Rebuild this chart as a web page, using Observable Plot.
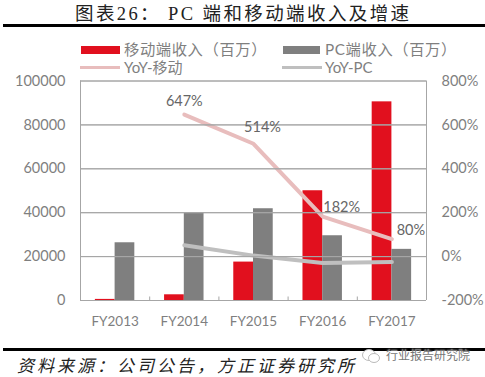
<!DOCTYPE html>
<html><head><meta charset="utf-8">
<script src="https://cdn.jsdelivr.net/npm/d3@7"></script>
<script src="https://cdn.jsdelivr.net/npm/@observablehq/plot@0.6"></script>
<style>
html,body{margin:0;padding:0;background:#fff}
#wrap{position:relative;width:485px;height:377px;overflow:hidden;font-family:"Noto Sans CJK SC",sans-serif}
#chart{position:absolute;left:0;top:0}
.a{position:absolute;white-space:nowrap}
.leg{color:#7f7f7f;font-family:Lato,"Noto Sans CJK SC",sans-serif}
</style></head><body>
<div id="wrap">
<div id="chart"></div>
<div class="a" style="left:75px;top:1px;font:400 18.5px/26px 'Liberation Serif','Noto Sans CJK SC',serif;letter-spacing:2.4px;color:#222">图表26：&nbsp;PC 端和移动端收入及增速</div>
<div class="a" style="left:3px;top:24px;width:482px;height:3px;background:#000"></div>
<div class="a" style="left:81px;top:46px;width:39px;height:8px;background:#e1101e"></div>
<div class="a leg" style="left:124px;top:38px;font-size:15.3px;line-height:22px;letter-spacing:.6px">移动端收入（百万）</div>
<div class="a" style="left:283px;top:46px;width:37px;height:8px;background:#7f7f7f"></div>
<div class="a leg" style="left:325px;top:38px;font-size:15.3px;line-height:22px;letter-spacing:.6px">PC端收入（百万）</div>
<div class="a" style="left:80px;top:66px;width:40px;height:3px;background:#e8bdbd"></div>
<div class="a leg" style="left:124px;top:57px;font-size:15px;line-height:20px">YoY-移动</div>
<div class="a" style="left:282px;top:66px;width:40px;height:3px;background:#bfbfbf"></div>
<div class="a leg" style="left:325px;top:57px;font-size:15px;line-height:20px">YoY-PC</div>
<div class="a" style="left:3px;top:348px;width:482px;height:3px;background:#000"></div>
<div class="a" style="left:17px;top:353px;font-size:17px;line-height:24px;font-style:italic;letter-spacing:3px;color:#222">资料来源：公司公告，方正证券研究所</div>
<svg class="a" style="left:361px;top:347px" width="20" height="18" viewBox="0 0 20 18"><ellipse cx="8" cy="8" rx="6.5" ry="5.5" fill="#fff" stroke="#bbb"/><ellipse cx="13" cy="11" rx="5.5" ry="4.5" fill="#fff" stroke="#bbb"/></svg>
<div class="a" style="left:386px;top:345px;font-size:12px;line-height:20px;color:#777;text-shadow:0 0 2px #fff">行业报告研究院</div>
</div>
<script>
const years = ["FY2013","FY2014","FY2015","FY2016","FY2017"];
const mobileRevenue = [500,2600,17500,50000,90500];
const pcRevenue = [26300,40000,41800,29500,23300];
const yoyYears = ["FY2014","FY2015","FY2016","FY2017"];
const yoyMobile = [647,514,182,80];
const yoyPC = [52,4.5,-29,-25];
const leftTicks = [0,20000,40000,60000,80000,100000];
const rightTicks = [-200,0,200,400,600,800];

const center = y => years.indexOf(y) + 0.5;
const toLeft = p => (p + 200) * 100;
const grey = "#7f7f7f", axisGrey = "#a6a6a6";
const barW = 0.285;
const label = (i, dx, dy) => Plot.text([i], {
  x: j => center(yoyYears[j]), y: j => toLeft(yoyMobile[j]),
  text: j => yoyMobile[j] + "%", dx, dy, fill: "#666", fontSize: 14.5, fontFamily: "Lato"
});

const plot = Plot.plot({
  width: 485, height: 377,
  marginTop: 80.5, marginBottom: 77, marginLeft: 80, marginRight: 59,
  style: {background: "transparent", fontFamily: "Lato", color: grey},
  x: {domain: [0, 5], axis: null},
  y: {domain: [0, 100000], axis: null},
  marks: [
    Plot.rectY(years, {x1: y => center(y) - barW, x2: y => center(y), y1: 0, y2: (y, i) => mobileRevenue[i], fill: "#e1101e"}),
    Plot.rectY(years, {x1: y => center(y), x2: y => center(y) + barW, y1: 0, y2: (y, i) => pcRevenue[i], fill: grey}),
    Plot.lineY(yoyYears, {x: center, y: (y, i) => toLeft(yoyMobile[i]), stroke: "#e8bdbd", strokeWidth: 4, strokeLinejoin: "round"}),
    Plot.lineY(yoyYears, {x: center, y: (y, i) => toLeft(yoyPC[i]), stroke: "#bfbfbf", strokeWidth: 4, strokeLinejoin: "round"}),
    Plot.ruleX([0, 5], {stroke: axisGrey}),
    Plot.ruleY([0], {stroke: axisGrey}),
    Plot.axisY(leftTicks, {anchor: "left", label: null, tickSize: 0, tickPadding: 15, fontSize: 14.5, fill: grey, tickFormat: d => String(d)}),
    Plot.tickY(leftTicks, {x1: 0, x2: 0.04, y: d => d, stroke: axisGrey}),
    Plot.axisY(rightTicks.map(toLeft), {anchor: "right", label: null, tickSize: 0, tickPadding: 15, fontSize: 14.5, fill: grey, tickFormat: d => (d / 100 - 200) + "%"}),
    Plot.tickY(rightTicks.map(toLeft), {x1: 4.96, x2: 5, y: d => d, stroke: axisGrey}),
    Plot.ruleX([1, 2, 3, 4], {y1: 0, y2: 1600, stroke: axisGrey}),
    Plot.axisX(years.map((y, i) => i + 0.5), {anchor: "bottom", label: null, tickSize: 0, tickPadding: 16, fontSize: 13.5, fill: grey, tickFormat: d => years[d - 0.5]}),
    label(0, 0, -13),
    label(1, 9, -16),
    label(2, 19, -9),
    label(3, 19, -9)
  ]
});
document.getElementById("chart").appendChild(plot);
</script>
</body></html>
